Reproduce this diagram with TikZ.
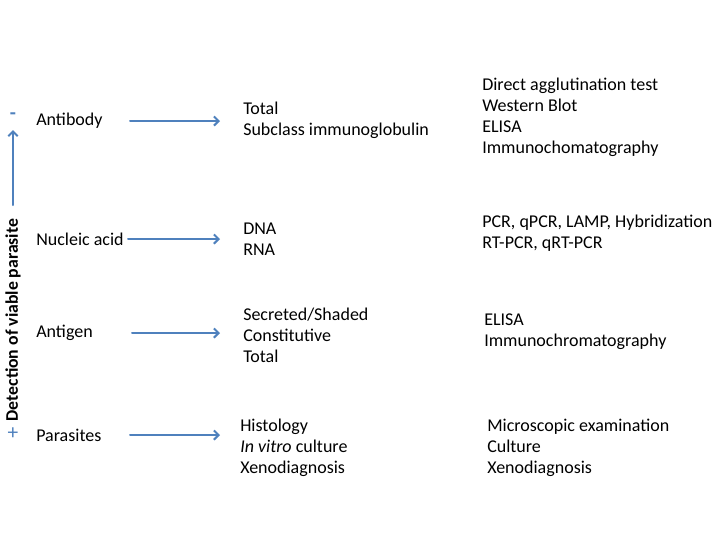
\documentclass[tikz,border=0pt]{standalone}
\usepackage{fontspec}
\setmainfont{Carlito}
\usetikzlibrary{arrows.meta}
\definecolor{arrowblue}{RGB}{79,129,189}
\begin{document}
\begin{tikzpicture}[x=0.75pt, y=-0.75pt, font=\fontsize{13.5}{15.8}\selectfont, line join=round, line cap=round, >={Straight Barb[length=3.5pt, width=7pt]}]
	\useasboundingbox (0,0) rectangle (720,540);
	\tikzset{lbl/.style={anchor=west, inner sep=0pt},
		col/.style={anchor=west, inner sep=0pt, align=left},
		link/.style={->, color=arrowblue, line width=1.5pt}}
	% axis
	\node[rotate=90, inner sep=0pt, font=\fontsize{13.3}{14}\selectfont\bfseries] (axis) at (13,320) {Detection of viable parasite};
	\node[inner sep=0pt, color=arrowblue, font=\fontsize{15}{15}\selectfont\bfseries] (minus) at (13,116) {-};
	\node[inner sep=0pt, color=arrowblue, font=\fontsize{16}{16}\selectfont] (plus) at (13,434) {+};
	\coordinate (low) at (13,205);
	\coordinate (up) at (13,130);
	\draw[link] (low) -- (up);
	% left labels
	\node[lbl] (ab) at (36,121) {Antibody};
	\node[lbl] (na) at (36,239) {Nucleic acid};
	\node[lbl] (ag) at (36,333) {Antigen};
	\node[lbl] (pa) at (36,435) {Parasites};
	% middle column
	\node[col] (ab-m) at (243,120) {Total\\Subclass immunoglobulin};
	\node[col] (na-m) at (243,239) {DNA\\RNA};
	\node[col] (ag-m) at (243,335) {Secreted/Shaded\\Constitutive\\Total};
	\node[col] (pa-m) at (240,448) {Histology\\\textit{In vitro} culture\\Xenodiagnosis};
	% right column
	\node[col] (ab-r) at (482,117) {Direct agglutination test\\Western Blot\\ELISA\\Immunochomatography};
	\node[col] (na-r) at (482,233) {PCR, qPCR, LAMP, Hybridization\\RT-PCR, qRT-PCR};
	\node[col] (ag-r) at (484,332) {ELISA\\Immunochromatography};
	\node[col] (pa-r) at (487,448) {Microscopic examination\\Culture\\Xenodiagnosis};
	% arrows
	\foreach \n/\s in {ab/130, na/128, ag/132, pa/130}
		\draw[link] (\n.west -| \s,0) -- (\n.west -| 220,0);
\end{tikzpicture}
\end{document}
